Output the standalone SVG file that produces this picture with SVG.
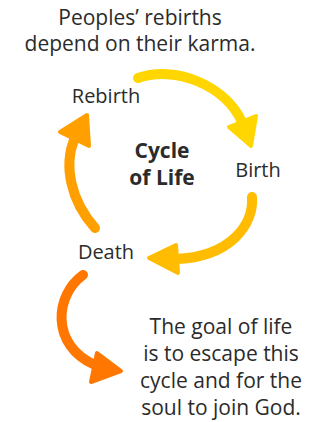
<svg xmlns="http://www.w3.org/2000/svg" width="323" height="422" viewBox="0 0 323 422">
<style>
text{font-family:"Open Sans","Noto Sans","DejaVu Sans",sans-serif;fill:#2b2b2b;text-anchor:middle;font-size:20px}
.n{font-size:21px}
.b{font-weight:bold;font-size:21px}
.shaft{fill:none;stroke-width:10;stroke-linecap:round}
.head{stroke-width:4;stroke-linejoin:round}
</style>
<rect width="323" height="422" fill="#fff"/>
<g id="connectors">
<g id="arrow-rebirth-birth">
<path class="shaft" d="M138,78 C175,65 225,85 242,122" stroke="#FFD600"/>
<polygon class="head" points="229,127 256,116 251,146" fill="#FFD600" stroke="#FFD600"/>
</g>
<g id="arrow-birth-death">
<path class="shaft" d="M252,197 C254,225 230,257 176,259" stroke="#FFBC00"/>
<polygon class="head" points="176,245 178,273 149,258" fill="#FFBC00" stroke="#FFBC00"/>
</g>
<g id="arrow-death-rebirth">
<path class="shaft" d="M95,228 C70,200 64,165 74,140" stroke="#FFA000"/>
<polygon class="head" points="60,132 89,146 87,115" fill="#FFA000" stroke="#FFA000"/>
</g>
<g id="arrow-death-goal">
<path class="shaft" d="M83,275 C55,295 50,345 95,365" stroke="#FF7700"/>
<polygon class="head" points="97,353 91,382 121,371" fill="#FF7700" stroke="#FF7700"/>
</g>
</g>
<g id="note-karma">
<text class="n" x="140" y="25">Peoples’ rebirths</text>
<text class="n" x="140" y="51">depend on their karma.</text>
</g>
<g id="node-rebirth"><text x="106" y="103">Rebirth</text></g>
<g id="node-center"><text class="b" x="162" y="158">Cycle</text><text class="b" x="162" y="185">of Life</text></g>
<g id="node-birth"><text x="258" y="177">Birth</text></g>
<g id="node-death"><text x="106" y="259">Death</text></g>
<g id="note-goal">
<text class="n" x="221" y="334">The goal of life</text>
<text class="n" x="221" y="361">is to escape this</text>
<text class="n" x="221" y="388">cycle and for the</text>
<text class="n" x="221" y="415">soul to join God.</text>
</g>
</svg>
